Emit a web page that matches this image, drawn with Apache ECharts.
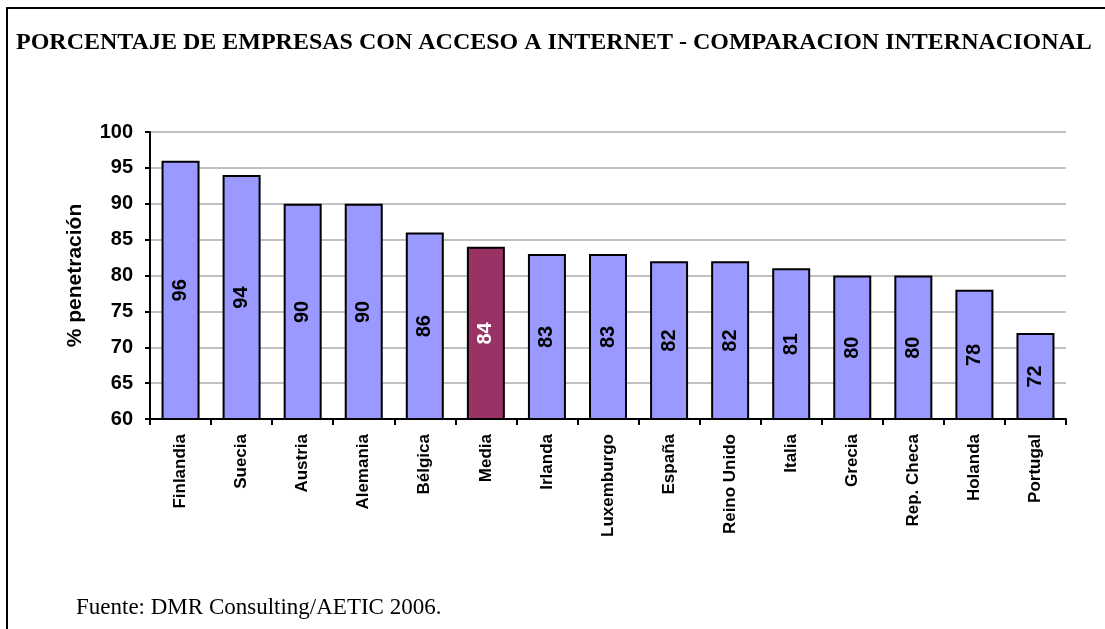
<!DOCTYPE html>
<html>
<head>
<meta charset="utf-8">
<script src="https://cdn.jsdelivr.net/npm/echarts@6/dist/echarts.min.js"></script>
<style>
  html, body { margin: 0; padding: 0; background: #fff; }
  #chartdiv { width: 1105px; height: 629px; }
</style>
</head>
<body>
<div id="chartdiv"></div>
<script>
const categories = [
  "Finlandia", "Suecia", "Austria", "Alemania", "Bélgica", "Media", "Irlanda",
  "Luxemburgo", "España", "Reino Unido", "Italia", "Grecia", "Rep. Checa", "Holanda", "Portugal"
];
const values = [96, 94, 90, 90, 86, 84, 83, 83, 82, 82, 81, 80, 80, 78, 72];
const highlight = "Media";

const BAR_COLOR = "#9999FF";
const HIGHLIGHT_COLOR = "#993366";

function buildData() {
  return values.map((v, i) => {
    const isMean = categories[i] === highlight;
    return {
      value: v,
      itemStyle: { color: isMean ? HIGHLIGHT_COLOR : BAR_COLOR },
      label: { color: isMean ? "#ffffff" : "#000000" }
    };
  });
}

function renderChart() {
  const chartDiv = document.getElementById("chartdiv");
  const chart = echarts.init(chartDiv, null, { renderer: "canvas" });

  const option = {
    animation: false,
    backgroundColor: "#ffffff",
    title: [
      {
        text: "PORCENTAJE DE EMPRESAS CON ACCESO A INTERNET - COMPARACION INTERNACIONAL",
        left: 11,
        top: 26,
        textStyle: {
          fontFamily: "Liberation Serif",
          fontWeight: "bold",
          fontSize: 24,
          color: "#000"
        }
      },
      {
        text: "Fuente: DMR Consulting/AETIC 2006.",
        left: 71,
        top: 591,
        textStyle: {
          fontFamily: "Liberation Serif",
          fontWeight: "normal",
          fontSize: 23,
          color: "#000"
        }
      }
    ],
    // frame lines (top and left), as in the original
    graphic: [
      { type: "line", shape: { x1: 6, y1: 8, x2: 1105, y2: 8 }, style: { stroke: "#000", lineWidth: 2 } },
      { type: "line", shape: { x1: 7, y1: 8, x2: 7, y2: 629 }, style: { stroke: "#000", lineWidth: 2 } }
    ],
    grid: { left: 150, right: 39, top: 132, bottom: 210 },
    xAxis: {
      type: "category",
      data: categories,
      axisLine: { lineStyle: { color: "#000", width: 2 } },
      axisTick: { show: true, length: 6, lineStyle: { color: "#000", width: 2 } },
      axisLabel: {
        rotate: 90,
        interval: 0,
        margin: 15,
        fontFamily: "Liberation Sans",
        fontWeight: "bold",
        fontSize: 17,
        color: "#000"
      }
    },
    yAxis: {
      type: "value",
      min: 60,
      max: 100,
      interval: 5,
      name: "% penetración",
      nameLocation: "middle",
      nameGap: 64,
      nameRotate: 90,
      nameTextStyle: {
        fontFamily: "Liberation Sans",
        fontWeight: "bold",
        fontSize: 21,
        color: "#000"
      },
      axisLine: { show: true, lineStyle: { color: "#000", width: 2 } },
      axisTick: { show: true, length: 5, lineStyle: { color: "#000", width: 2 } },
      axisLabel: {
        margin: 17,
        fontFamily: "Liberation Sans",
        fontWeight: "bold",
        fontSize: 20,
        color: "#000"
      },
      splitLine: { show: true, lineStyle: { color: "#c0c0c0", width: 2 } }
    },
    series: [
      {
        type: "bar",
        data: buildData(),
        barWidth: 38,
        itemStyle: { borderColor: "#000", borderWidth: 2 },
        label: {
          show: true,
          position: "inside",
          rotate: 90,
          fontFamily: "Liberation Sans",
          fontWeight: "bold",
          fontSize: 20
        }
      }
    ]
  };

  chart.setOption(option);
}

window.onload = renderChart;
</script>
</body>
</html>
